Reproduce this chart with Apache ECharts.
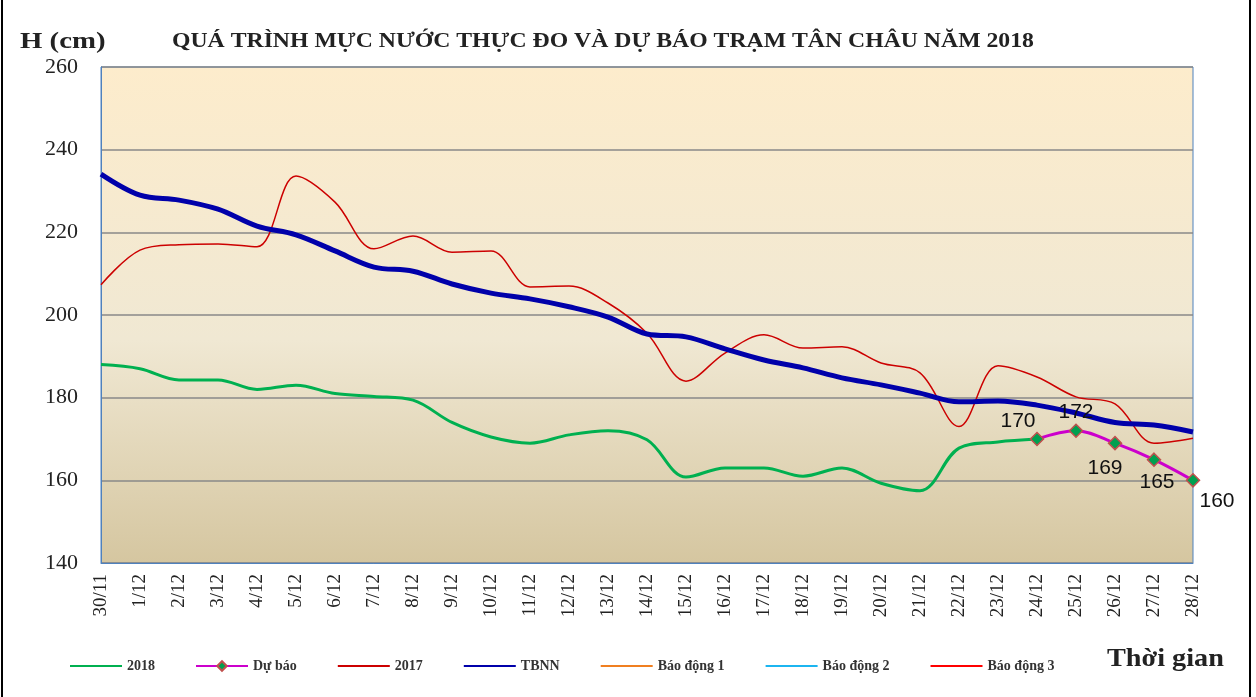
<!DOCTYPE html>
<html>
<head>
<meta charset="utf-8">
<script src="https://cdn.jsdelivr.net/npm/echarts@6/dist/echarts.min.js"></script>
<style>
  html, body { margin: 0; padding: 0; background: #fff; }
  #chart { width: 1256px; height: 697px; }
</style>
</head>
<body>
<div id="chart"></div>
<script>
// ngày
var days = ["30/11", "1/12", "2/12", "3/12", "4/12", "5/12", "6/12", "7/12", "8/12", "9/12",
  "10/12", "11/12", "12/12", "13/12", "14/12", "15/12", "16/12", "17/12", "18/12", "19/12",
  "20/12", "21/12", "22/12", "23/12", "24/12", "25/12", "26/12", "27/12", "28/12"];

// mực nước thực đo 2018
var h2018 = [188, 187, 184.3, 184.3, 182, 183, 181, 180.3, 179.4, 174,
  170.5, 169, 171, 172, 169.8, 160.8, 163, 163, 161, 163,
  159.3, 157.5, 167.8, 169.3, 170, null, null, null, null];

// dự báo
var duBao = [null, null, null, null, null, null, null, null, null, null,
  null, null, null, null, null, null, null, null, null, null,
  null, null, null, null, 170, 172, 169, 165, 160];

// năm 2017
var h2017 = [207.3, 215.7, 217, 217.2, 216.5, 233.6, 227.3, 216, 219.1, 215.2,
  215.5, 206.8, 207, 202.9, 195.6, 184, 190.8, 195.2, 192, 192.3,
  188.4, 186, 173, 187.7, 185, 180.2, 178.5, 169, 170.2];

// trung bình nhiều năm
var tbnn = [234.1, 229, 227.8, 225.6, 221.5, 219.4, 215.5, 211.6, 210.6, 207.5,
  205.3, 203.9, 202, 199.5, 195.4, 194.7, 191.8, 189.1, 187.2, 184.8,
  183.1, 181.1, 179, 179.2, 178.2, 176.3, 174, 173.4, 171.7];

// vị trí nhãn dự báo
var labelPos = [null, null, null, null, null, null, null, null, null, null,
  null, null, null, null, null, null, null, null, null, null,
  null, null, null, null, ["top", [-19, 5]], ["top", [0, 4]], ["bottom", [-10, 2]], ["bottom", [3, 0]], ["bottom", [24, -2]]];

var legendNames = ["2018", "Dự báo", "2017", "TBNN", "Báo động 1", "Báo động 2", "Báo động 3"];

var serif = "'Liberation Serif', 'Times New Roman', serif";

var duBaoData = duBao.map(function (v, i) {
  if (v == null) return null;
  return {
    value: v,
    label: { position: labelPos[i][0], offset: labelPos[i][1] }
  };
});

// chỉ "Dự báo" có ký hiệu trên chú giải
var legendData = legendNames.map(function (n) {
  if (n === "Dự báo") return { name: n };
  return { name: n, itemStyle: { opacity: 0 } };
});

var myChart = echarts.init(document.getElementById("chart"));

var option = {
  animation: false,
  graphic: [
    {
      type: "text", left: 172, top: 31, scaleX: 1.13,
      style: { text: "QUÁ TRÌNH MỰC NƯỚC THỰC ĐO VÀ DỰ BÁO TRẠM TÂN CHÂU NĂM 2018", font: "bold 21px " + serif, fill: "#222" }
    },
    { type: "text", left: 20, top: 30, scaleX: 1.2, style: { text: "H (cm)", font: "bold 24px " + serif, fill: "#222" } },
    { type: "text", left: 1107, top: 647, scaleX: 1.13, style: { text: "Thời gian", font: "bold 25px " + serif, fill: "#222" } },
    { type: "rect", shape: { x: 2, y: -5, width: 1248, height: 710 }, style: { fill: "none", stroke: "#000", lineWidth: 2 } }
  ],
  legend: {
    left: 64,
    top: 654,
    itemWidth: 52,
    itemHeight: 12,
    itemGap: 40,
    textStyle: { fontFamily: serif, fontSize: 14, fontWeight: "bold", color: "#333" },
    lineStyle: { width: 2 },
    data: legendData
  },
  grid: {
    left: 101,
    right: 63,
    top: 67,
    bottom: 134,
    show: true,
    borderColor: "#4F81BD",
    borderWidth: 1,
    backgroundColor: {
      type: "linear", x: 0, y: 0, x2: 0, y2: 1,
      colorStops: [
        { offset: 0, color: "#FDECCC" },
        { offset: 0.55, color: "#F0E8D3" },
        { offset: 1, color: "#D5C6A0" }
      ]
    }
  },
  xAxis: {
    type: "category",
    data: days,
    boundaryGap: false,
    axisLine: { lineStyle: { color: "#4F81BD" } },
    axisTick: { show: false },
    axisLabel: { rotate: 90, interval: 0, margin: 11, fontFamily: serif, fontSize: 19, color: "#222" },
    splitLine: { show: false }
  },
  yAxis: {
    type: "value",
    min: 140,
    max: 260,
    interval: 20,
    axisLine: { show: true, lineStyle: { color: "#4F81BD" } },
    axisTick: { show: false },
    axisLabel: { margin: 23, fontFamily: serif, fontSize: 22, color: "#222" },
    splitLine: { lineStyle: { color: "#888", width: 1.5 } }
  },
  series: [
    {
      name: "2018", type: "line", data: h2018, smooth: 0.35, symbol: "none",
      color: "#00B050", lineStyle: { width: 3, color: "#00B050" }, z: 4
    },
    {
      name: "Dự báo", type: "line", data: duBaoData, smooth: 0.35,
      symbol: "diamond", symbolSize: 13,
      color: "#CC00CC",
      lineStyle: { width: 3, color: "#CC00CC" },
      itemStyle: { color: "#00A050", borderColor: "#C0504D", borderWidth: 1.5 },
      label: { show: true, fontFamily: "'Liberation Sans', Arial, sans-serif", fontSize: 21, color: "#111" },
      z: 6
    },
    {
      name: "2017", type: "line", data: h2017, smooth: 0.35, symbol: "none",
      color: "#CC0000", lineStyle: { width: 1.5, color: "#CC0000" }, z: 3
    },
    {
      name: "TBNN", type: "line", data: tbnn, smooth: 0.35, symbol: "none",
      color: "#0000AA", lineStyle: { width: 5, color: "#0000AA" }, z: 5
    },
    { name: "Báo động 1", type: "line", data: [], symbol: "none", color: "#F07F20", lineStyle: { color: "#F07F20" } },
    { name: "Báo động 2", type: "line", data: [], symbol: "none", color: "#1CB5F0", lineStyle: { color: "#1CB5F0" } },
    { name: "Báo động 3", type: "line", data: [], symbol: "none", color: "#FF0000", lineStyle: { color: "#FF0000" } }
  ]
};

myChart.setOption(option);
window.addEventListener("resize", function () {
  myChart.resize();
});
</script>
</body>
</html>
